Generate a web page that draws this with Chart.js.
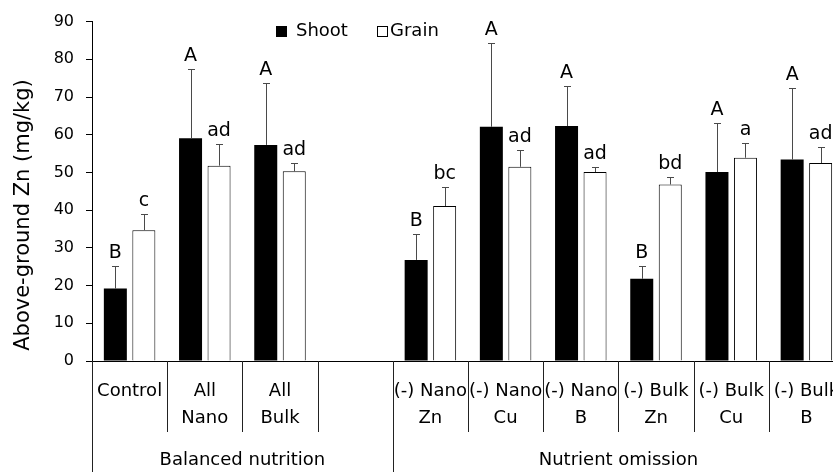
<!DOCTYPE html>
<html>
<head>
<meta charset="utf-8">
<title>Above-ground Zn</title>
<script src="https://cdn.jsdelivr.net/npm/chart.js@4/dist/chart.umd.min.js"></script>
<style>
  html, body { margin: 0; padding: 0; overflow: hidden; background: #fff; }
  #wrap { position: relative; width: 850px; height: 472px; }
</style>
</head>
<body>
<div id="wrap"><canvas id="chart"></canvas></div>
<script>
// Treatments (first-level category labels, two lines where needed)
const categories = [
  ['Control'], ['All', 'Nano'], ['All', 'Bulk'], [''],
  ['(-) Nano', 'Zn'], ['(-) Nano', 'Cu'], ['(-) Nano', 'B'],
  ['(-) Bulk', 'Zn'], ['(-) Bulk', 'Cu'], ['(-) Bulk', 'B']
];
// Second-level groups and how many treatments each spans
const groupLabels = ['Balanced nutrition', 'Nutrient omission'];
const groupSizes = [4, 6];

// Zn concentration (mg/kg), mean and standard deviation
const shootValues = [19.2, 59.1, 57.3, null, 26.8, 62.1, 62.3, 21.8, 50.1, 53.4];
const shootErrors = [6.1, 18.3, 16.4, null, 7.0, 22.2, 10.5, 3.5, 13.0, 19.1];
const grainValues = [34.7, 51.8, 50.3, null, 41.1, 51.5, 50.1, 46.8, 53.9, 52.5];
const grainErrors = [4.2, 5.7, 2.2, null, 5.0, 4.5, 1.4, 2.1, 3.9, 4.2];

// Significance letters
const shootLetters = ['B', 'A', 'A', '', 'B', 'A', 'A', 'B', 'A', 'A'];
const grainLetters = ['c', 'ad', 'ad', '', 'bc', 'ad', 'ad', 'bd', 'a', 'ad'];

const yTicks = [0, 10, 20, 30, 40, 50, 60, 70, 80, 90];
const yTitle = 'Above-ground Zn (mg/kg)';

const FONT = 'DejaVu Sans';
const INK = '#000';

const extras = {
  id: 'extras',
  afterDatasetsDraw(chart) {
    const ctx = chart.ctx;
    const y = chart.scales.y;
    const errs = [shootErrors, grainErrors];
    const letters = [shootLetters, grainLetters];
    chart.data.datasets.forEach((ds, di) => {
      const meta = chart.getDatasetMeta(di);
      meta.data.forEach((bar, i) => {
        const v = ds.data[i];
        if (v == null) return;
        const top = y.getPixelForValue(v + errs[di][i]);
        // error bar (upper arm only)
        ctx.save();
        ctx.strokeStyle = '#4a4a4a';
        ctx.lineWidth = 1;
        ctx.beginPath();
        const x = Math.round(bar.x) + 0.5;
        ctx.moveTo(x, bar.y);
        ctx.lineTo(x, Math.round(top) + 0.5);
        ctx.moveTo(x - 3.5, Math.round(top) + 0.5);
        ctx.lineTo(x + 3.5, Math.round(top) + 0.5);
        ctx.stroke();
        // letter
        ctx.fillStyle = INK;
        ctx.font = '19px "' + FONT + '"';
        ctx.textAlign = 'center';
        ctx.textBaseline = 'alphabetic';
        ctx.fillText(letters[di][i], bar.x, top - 8);
        ctx.restore();
      });
    });
  },
  afterDraw(chart) {
    const ctx = chart.ctx;
    const area = chart.chartArea;
    const n = categories.length;
    const w = (area.right - area.left) / n;
    const bottom = chart.height;
    ctx.save();
    ctx.strokeStyle = '#222';
    ctx.lineWidth = 1;
    // first-level separators
    ctx.beginPath();
    for (let i = 1; i < n; i++) {
      const x = Math.round(area.left + i * w) + 0.5;
      ctx.moveTo(x, area.bottom);
      ctx.lineTo(x, area.bottom + 71);
    }
    // group separators run to the bottom
    let k = 0;
    const bounds = [0];
    groupSizes.forEach(s => { k += s; bounds.push(k); });
    bounds.forEach(b => {
      const x = Math.round(area.left + b * w) + 0.5;
      ctx.moveTo(x, area.bottom);
      ctx.lineTo(x, bottom);
    });
    ctx.stroke();
    // group labels
    ctx.fillStyle = INK;
    ctx.font = '18px "' + FONT + '"';
    ctx.textAlign = 'center';
    ctx.textBaseline = 'middle';
    groupLabels.forEach((lab, gi) => {
      const cx = area.left + (bounds[gi] + bounds[gi + 1]) / 2 * w;
      ctx.fillText(lab, cx, area.bottom + 99);
    });
    // legend
    ctx.textAlign = 'left';
    ctx.fillStyle = '#000';
    ctx.fillRect(276, 26, 11, 11);
    ctx.strokeStyle = '#000';
    ctx.strokeRect(377.5, 26.5, 10, 10);
    ctx.fillStyle = INK;
    ctx.fillText(chart.data.datasets[0].label, 296, 31.5);
    ctx.fillText(chart.data.datasets[1].label, 390, 31.5);
    // y-axis title
    ctx.translate(24, 215);
    ctx.rotate(-Math.PI / 2);
    ctx.textAlign = 'center';
    ctx.font = '21px "' + FONT + '"';
    ctx.fillText(yTitle, 0, 0);
    ctx.restore();
  }
};

new Chart(document.getElementById('chart'), {
  type: 'bar',
  data: {
    labels: categories,
    datasets: [
      { label: 'Shoot', data: shootValues, backgroundColor: '#000', borderColor: '#000', borderWidth: 0 },
      { label: 'Grain', data: grainValues, backgroundColor: '#fff', borderColor: '#000', borderWidth: 1 }
    ]
  },
  options: {
    responsive: true,
    maintainAspectRatio: false,
    animation: false,
    categoryPercentage: 0.758,
    barPercentage: 0.807,
    layout: { padding: { top: 19.5, right: 6, left: 0, bottom: 0 } },
    plugins: { legend: { display: false }, tooltip: { enabled: false } },
    scales: {
      x: {
        grid: { display: true, drawOnChartArea: false, drawTicks: true, tickLength: 17, color: 'rgba(0,0,0,0)' },
        border: { display: true, color: '#000', width: 1 },
        ticks: {
          color: INK, autoSkip: false, maxRotation: 0, minRotation: 0,
          padding: 0,
          font: { family: FONT, size: 18, lineHeight: 1.5 }
        },
        afterFit(axis) { axis.height = 111; }
      },
      y: {
        min: 0, max: 90,
        afterBuildTicks(axis) { axis.ticks = yTicks.map(v => ({ value: v })); },
        grid: { display: true, drawOnChartArea: false, drawTicks: true, tickLength: 6, color: '#000' },
        border: { display: true, color: '#000', width: 1 },
        ticks: { color: INK, padding: 12, font: { family: FONT, size: 16 } },
        afterFit(axis) { axis.width = 92; }
      }
    }
  },
  plugins: [extras]
});
</script>
</body>
</html>
